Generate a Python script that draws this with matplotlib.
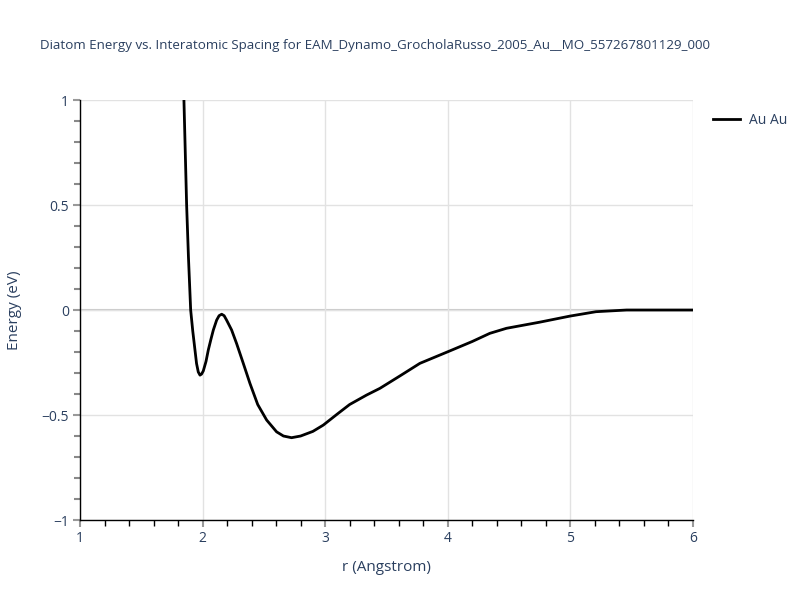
import matplotlib
matplotlib.use("Agg")
import matplotlib.pyplot as plt
from matplotlib.ticker import MultipleLocator

# data
r = [1.848, 1.870, 1.885, 1.903, 1.920, 1.938, 1.951, 1.965, 1.979, 1.992,
     2.006, 2.028, 2.047, 2.068, 2.088, 2.115, 2.135, 2.156, 2.176, 2.196,
     2.237, 2.278, 2.330, 2.387, 2.450, 2.523, 2.604, 2.660, 2.726, 2.800,
     2.900, 2.985, 3.100, 3.200, 3.338, 3.447, 3.610, 3.773, 4.004, 4.200,
     4.344, 4.480, 4.750, 4.997, 5.210, 5.460, 5.700, 6.000]
energy = [1.0, 0.50, 0.25, 0.0, -0.10, -0.19, -0.255, -0.295, -0.31, -0.305,
          -0.29, -0.245, -0.19, -0.14, -0.095, -0.048, -0.027, -0.02, -0.027, -0.048,
          -0.095, -0.16, -0.25, -0.35, -0.45, -0.524, -0.58, -0.60, -0.608, -0.600,
          -0.578, -0.548, -0.495, -0.450, -0.405, -0.373, -0.314, -0.254, -0.198, -0.150,
          -0.111, -0.087, -0.058, -0.029, -0.008, 0.0, 0.0, 0.0]
label = "Au Au"
title = "Diatom Energy vs. Interatomic Spacing for EAM_Dynamo_GrocholaRusso_2005_Au__MO_557267801129_000"

txt = "#2a3f5f"
plt.rcParams['font.family'] = ['Open Sans', 'DejaVu Sans']

fig = plt.figure(figsize=(8, 6), dpi=100)
ax = fig.add_axes([0.1, 0.1333, 0.766, 0.7])

ax.plot(r, energy, color="black", lw=2, label=label, zorder=3, solid_joinstyle="round")
ax.axhline(0, color="#c8c8c8", lw=1.5, zorder=1)

ax.set_xlim(1, 6)
ax.set_ylim(-1, 1)
ax.xaxis.set_major_locator(MultipleLocator(1))
ax.xaxis.set_minor_locator(MultipleLocator(0.2))
ax.yaxis.set_minor_locator(MultipleLocator(0.1))
ax.set_yticks([-1, -0.5, 0, 0.5, 1])
ax.set_yticklabels(["\u22121", "\u22120.5", "0", "0.5", "1"])

ax.grid(True, which="major", color="#e2e2e2", lw=1, zorder=0)
for s in ["top", "right"]:
    ax.spines[s].set_visible(False)
for s in ["left", "bottom"]:
    ax.spines[s].set_color("black")
    ax.spines[s].set_linewidth(1)

ax.tick_params(which="major", direction="out", length=5, width=1.5, color="#999999",
               labelcolor=txt, labelsize=10, pad=3)
ax.tick_params(axis="x", which="minor", direction="out", length=4, width=1, color="black")
ax.tick_params(axis="y", which="minor", direction="out", length=4, width=1.5, color="#888888")

ax.set_xlabel("r (Angstrom)", color=txt, fontsize=11, labelpad=10)
ax.set_ylabel("Energy (eV)", color=txt, fontsize=11, labelpad=14)

fig.text(0.05, 0.925, title, color=txt, fontsize=9.6, ha="left", va="center")

leg = ax.legend(loc="upper left", bbox_to_anchor=(1.012, 1.0), frameon=False,
                fontsize=10, handlelength=2.0, handletextpad=0.6, labelcolor=txt)

fig.savefig("out.png", dpi=100)
